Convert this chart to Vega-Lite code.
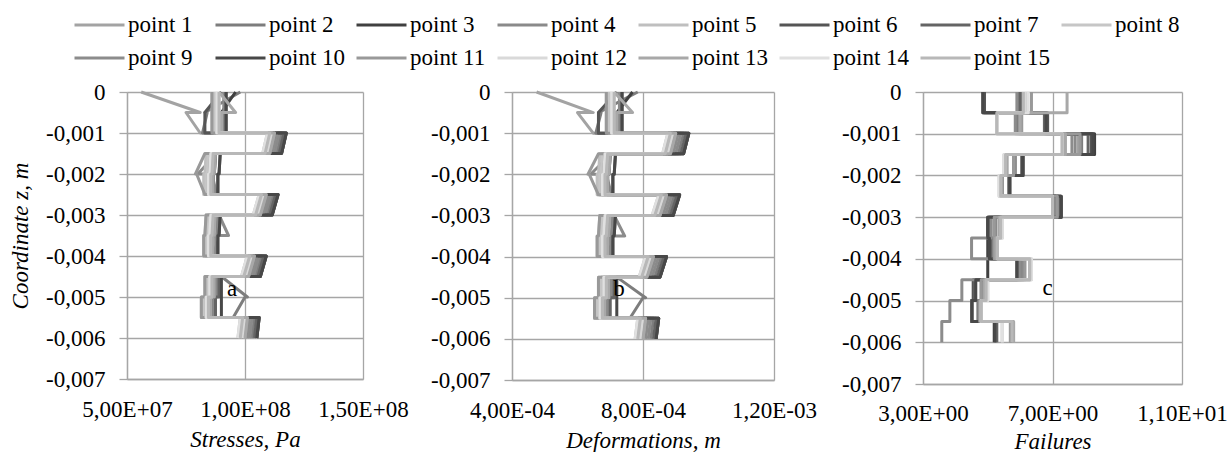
{
"$schema": "https://vega.github.io/schema/vega-lite/v6.json",
"background": "white",
"padding": {"left": 9, "top": 12, "right": 0, "bottom": 0},
"bounds": "flush",
"spacing": 149,
"config": {
  "font": "Liberation Serif, Times New Roman, DejaVu Serif, serif",
  "view": {"stroke": null},
  "text": {"font": "Liberation Serif, Times New Roman, DejaVu Serif, serif"},
  "axis": {"labelFont": "Liberation Serif, Times New Roman, DejaVu Serif, serif", "labelFontSize": 23, "labelColor": "#000000", "titleFont": "Liberation Serif, Times New Roman, DejaVu Serif, serif", "titleFontSize": 23, "titleColor": "#000000", "titleFontWeight": "normal", "titleFontStyle": "italic", "gridColor": "#a6a6a6", "gridWidth": 1.3, "domainColor": "#a6a6a6", "domainWidth": 1.3, "tickColor": "#a6a6a6", "tickWidth": 1.3},
  "legend": {"orient": "none", "legendX": -54, "legendY": -80, "direction": "horizontal", "columns": 8, "symbolType": "stroke", "symbolStrokeWidth": 3, "symbolSize": 2500, "labelFont": "Liberation Serif, Times New Roman, DejaVu Serif, serif", "labelFontSize": 23, "labelColor": "#000000", "gridAlign": "all", "columnPadding": 9, "rowPadding": 7, "labelOffset": 2, "clipHeight": 26}
},
"datasets": {
"sd": [
{"p":1,"z":0,"s":5.6e7,"d":4.75e-4},{"p":1,"z":-0.0005,"s":8.1e7,"d":6.48e-4},{"p":1,"z":-0.0005,"s":7.5e7,"d":6.0e-4},{"p":1,"z":-0.001,"s":8.1e7,"d":6.48e-4},{"p":1,"z":-0.001,"s":11.15e7,"d":8.92e-4},{"p":1,"z":-0.0015,"s":10.95e7,"d":8.76e-4},{"p":1,"z":-0.0015,"s":8.45e7,"d":6.76e-4},{"p":1,"z":-0.002,"s":8.4e7,"d":6.72e-4},{"p":1,"z":-0.002,"s":8.35e7,"d":6.68e-4},{"p":1,"z":-0.0025,"s":8.35e7,"d":6.68e-4},{"p":1,"z":-0.0025,"s":10.8e7,"d":8.64e-4},{"p":1,"z":-0.003,"s":10.55e7,"d":8.44e-4},{"p":1,"z":-0.003,"s":8.45e7,"d":6.76e-4},{"p":1,"z":-0.0035,"s":8.4e7,"d":6.72e-4},{"p":1,"z":-0.0035,"s":8.35e7,"d":6.68e-4},{"p":1,"z":-0.004,"s":8.35e7,"d":6.68e-4},{"p":1,"z":-0.004,"s":10.3e7,"d":8.24e-4},{"p":1,"z":-0.0045,"s":10.05e7,"d":8.04e-4},{"p":1,"z":-0.0045,"s":8.4e7,"d":6.72e-4},{"p":1,"z":-0.005,"s":8.4e7,"d":6.72e-4},{"p":1,"z":-0.005,"s":8.25e7,"d":6.6e-4},{"p":1,"z":-0.0055,"s":8.25e7,"d":6.6e-4},{"p":1,"z":-0.0055,"s":10.0e7,"d":8.0e-4},{"p":1,"z":-0.006,"s":9.9e7,"d":7.92e-4},
{"p":2,"z":0,"s":9.8e7,"d":7.84e-4},{"p":2,"z":-0.0005,"s":8.3e7,"d":6.64e-4},{"p":2,"z":-0.0005,"s":8.4e7,"d":6.72e-4},{"p":2,"z":-0.001,"s":8.2e7,"d":6.56e-4},{"p":2,"z":-0.001,"s":11.55e7,"d":9.24e-4},{"p":2,"z":-0.0015,"s":11.35e7,"d":9.08e-4},{"p":2,"z":-0.0015,"s":8.75e7,"d":7.0e-4},{"p":2,"z":-0.002,"s":8.7e7,"d":6.96e-4},{"p":2,"z":-0.002,"s":8.65e7,"d":6.92e-4},{"p":2,"z":-0.0025,"s":8.65e7,"d":6.92e-4},{"p":2,"z":-0.0025,"s":11.2e7,"d":8.96e-4},{"p":2,"z":-0.003,"s":10.95e7,"d":8.76e-4},{"p":2,"z":-0.003,"s":8.75e7,"d":7.0e-4},{"p":2,"z":-0.0035,"s":8.7e7,"d":6.96e-4},{"p":2,"z":-0.0035,"s":8.65e7,"d":6.92e-4},{"p":2,"z":-0.004,"s":8.65e7,"d":6.92e-4},{"p":2,"z":-0.004,"s":10.7e7,"d":8.56e-4},{"p":2,"z":-0.0045,"s":10.45e7,"d":8.36e-4},{"p":2,"z":-0.0045,"s":9.0e7,"d":7.2e-4},{"p":2,"z":-0.005,"s":10.1e7,"d":8.08e-4},{"p":2,"z":-0.005,"s":10.0e7,"d":8.0e-4},{"p":2,"z":-0.0055,"s":9.5e7,"d":7.6e-4},{"p":2,"z":-0.0055,"s":10.4e7,"d":8.32e-4},{"p":2,"z":-0.006,"s":10.3e7,"d":8.24e-4},
{"p":3,"z":0,"s":9.6e7,"d":7.68e-4},{"p":3,"z":-0.0005,"s":9.0e7,"d":7.2e-4},{"p":3,"z":-0.0005,"s":8.9e7,"d":7.12e-4},{"p":3,"z":-0.001,"s":8.9e7,"d":7.12e-4},{"p":3,"z":-0.001,"s":11.75e7,"d":9.4e-4},{"p":3,"z":-0.0015,"s":11.55e7,"d":9.24e-4},{"p":3,"z":-0.0015,"s":8.65e7,"d":6.92e-4},{"p":3,"z":-0.002,"s":8.6e7,"d":6.88e-4},{"p":3,"z":-0.002,"s":8.55e7,"d":6.84e-4},{"p":3,"z":-0.0025,"s":8.55e7,"d":6.84e-4},{"p":3,"z":-0.0025,"s":11.4e7,"d":9.12e-4},{"p":3,"z":-0.003,"s":11.15e7,"d":8.92e-4},{"p":3,"z":-0.003,"s":8.65e7,"d":6.92e-4},{"p":3,"z":-0.0035,"s":8.6e7,"d":6.88e-4},{"p":3,"z":-0.0035,"s":8.55e7,"d":6.84e-4},{"p":3,"z":-0.004,"s":8.55e7,"d":6.84e-4},{"p":3,"z":-0.004,"s":10.9e7,"d":8.72e-4},{"p":3,"z":-0.0045,"s":10.65e7,"d":8.52e-4},{"p":3,"z":-0.0045,"s":8.6e7,"d":6.88e-4},{"p":3,"z":-0.005,"s":8.6e7,"d":6.88e-4},{"p":3,"z":-0.005,"s":8.45e7,"d":6.76e-4},{"p":3,"z":-0.0055,"s":8.45e7,"d":6.76e-4},{"p":3,"z":-0.0055,"s":10.6e7,"d":8.48e-4},{"p":3,"z":-0.006,"s":10.5e7,"d":8.4e-4},
{"p":4,"z":0,"s":9.1e7,"d":7.28e-4},{"p":4,"z":-0.0005,"s":9.1e7,"d":7.28e-4},{"p":4,"z":-0.0005,"s":9.1e7,"d":7.28e-4},{"p":4,"z":-0.001,"s":9.1e7,"d":7.28e-4},{"p":4,"z":-0.001,"s":11.45e7,"d":9.16e-4},{"p":4,"z":-0.0015,"s":11.25e7,"d":9.0e-4},{"p":4,"z":-0.0015,"s":8.8e7,"d":7.04e-4},{"p":4,"z":-0.002,"s":8.0e7,"d":6.4e-4},{"p":4,"z":-0.002,"s":8.6e7,"d":6.88e-4},{"p":4,"z":-0.0025,"s":8.8e7,"d":7.04e-4},{"p":4,"z":-0.0025,"s":11.1e7,"d":8.88e-4},{"p":4,"z":-0.003,"s":10.85e7,"d":8.68e-4},{"p":4,"z":-0.003,"s":8.85e7,"d":7.08e-4},{"p":4,"z":-0.0035,"s":8.8e7,"d":7.04e-4},{"p":4,"z":-0.0035,"s":8.75e7,"d":7.0e-4},{"p":4,"z":-0.004,"s":8.75e7,"d":7.0e-4},{"p":4,"z":-0.004,"s":10.6e7,"d":8.48e-4},{"p":4,"z":-0.0045,"s":10.35e7,"d":8.28e-4},{"p":4,"z":-0.0045,"s":8.8e7,"d":7.04e-4},{"p":4,"z":-0.005,"s":8.8e7,"d":7.04e-4},{"p":4,"z":-0.005,"s":8.65e7,"d":6.92e-4},{"p":4,"z":-0.0055,"s":8.65e7,"d":6.92e-4},{"p":4,"z":-0.0055,"s":10.3e7,"d":8.24e-4},{"p":4,"z":-0.006,"s":10.2e7,"d":8.16e-4},
{"p":5,"z":0,"s":8.6e7,"d":6.88e-4},{"p":5,"z":-0.0005,"s":8.6e7,"d":6.88e-4},{"p":5,"z":-0.0005,"s":8.6e7,"d":6.88e-4},{"p":5,"z":-0.001,"s":8.6e7,"d":6.88e-4},{"p":5,"z":-0.001,"s":10.95e7,"d":8.76e-4},{"p":5,"z":-0.0015,"s":10.75e7,"d":8.6e-4},{"p":5,"z":-0.0015,"s":8.35e7,"d":6.68e-4},{"p":5,"z":-0.002,"s":8.3e7,"d":6.64e-4},{"p":5,"z":-0.002,"s":8.25e7,"d":6.6e-4},{"p":5,"z":-0.0025,"s":8.25e7,"d":6.6e-4},{"p":5,"z":-0.0025,"s":10.6e7,"d":8.48e-4},{"p":5,"z":-0.003,"s":10.35e7,"d":8.28e-4},{"p":5,"z":-0.003,"s":8.35e7,"d":6.68e-4},{"p":5,"z":-0.0035,"s":8.3e7,"d":6.64e-4},{"p":5,"z":-0.0035,"s":8.25e7,"d":6.6e-4},{"p":5,"z":-0.004,"s":8.25e7,"d":6.6e-4},{"p":5,"z":-0.004,"s":10.1e7,"d":8.08e-4},{"p":5,"z":-0.0045,"s":9.85e7,"d":7.88e-4},{"p":5,"z":-0.0045,"s":8.3e7,"d":6.64e-4},{"p":5,"z":-0.005,"s":8.3e7,"d":6.64e-4},{"p":5,"z":-0.005,"s":8.15e7,"d":6.52e-4},{"p":5,"z":-0.0055,"s":8.15e7,"d":6.52e-4},{"p":5,"z":-0.0055,"s":9.8e7,"d":7.84e-4},{"p":5,"z":-0.006,"s":9.7e7,"d":7.76e-4},
{"p":6,"z":0,"s":9.0e7,"d":7.2e-4},{"p":6,"z":-0.0005,"s":8.3e7,"d":6.64e-4},{"p":6,"z":-0.0005,"s":8.3e7,"d":6.64e-4},{"p":6,"z":-0.001,"s":8.3e7,"d":6.64e-4},{"p":6,"z":-0.001,"s":11.75e7,"d":9.4e-4},{"p":6,"z":-0.0015,"s":11.55e7,"d":9.24e-4},{"p":6,"z":-0.0015,"s":8.75e7,"d":7.0e-4},{"p":6,"z":-0.002,"s":8.7e7,"d":6.96e-4},{"p":6,"z":-0.002,"s":8.65e7,"d":6.92e-4},{"p":6,"z":-0.0025,"s":8.65e7,"d":6.92e-4},{"p":6,"z":-0.0025,"s":11.4e7,"d":9.12e-4},{"p":6,"z":-0.003,"s":11.15e7,"d":8.92e-4},{"p":6,"z":-0.003,"s":8.75e7,"d":7.0e-4},{"p":6,"z":-0.0035,"s":8.7e7,"d":6.96e-4},{"p":6,"z":-0.0035,"s":8.65e7,"d":6.92e-4},{"p":6,"z":-0.004,"s":8.65e7,"d":6.92e-4},{"p":6,"z":-0.004,"s":10.9e7,"d":8.72e-4},{"p":6,"z":-0.0045,"s":10.65e7,"d":8.52e-4},{"p":6,"z":-0.0045,"s":8.7e7,"d":6.96e-4},{"p":6,"z":-0.005,"s":8.7e7,"d":6.96e-4},{"p":6,"z":-0.005,"s":8.55e7,"d":6.84e-4},{"p":6,"z":-0.0055,"s":8.55e7,"d":6.84e-4},{"p":6,"z":-0.0055,"s":10.6e7,"d":8.48e-4},{"p":6,"z":-0.006,"s":10.5e7,"d":8.4e-4},
{"p":7,"z":0,"s":9.2e7,"d":7.36e-4},{"p":7,"z":-0.0005,"s":9.2e7,"d":7.36e-4},{"p":7,"z":-0.0005,"s":9.2e7,"d":7.36e-4},{"p":7,"z":-0.001,"s":9.2e7,"d":7.36e-4},{"p":7,"z":-0.001,"s":11.65e7,"d":9.32e-4},{"p":7,"z":-0.0015,"s":11.45e7,"d":9.16e-4},{"p":7,"z":-0.0015,"s":8.95e7,"d":7.16e-4},{"p":7,"z":-0.002,"s":8.9e7,"d":7.12e-4},{"p":7,"z":-0.002,"s":8.85e7,"d":7.08e-4},{"p":7,"z":-0.0025,"s":8.85e7,"d":7.08e-4},{"p":7,"z":-0.0025,"s":11.3e7,"d":9.04e-4},{"p":7,"z":-0.003,"s":11.05e7,"d":8.84e-4},{"p":7,"z":-0.003,"s":8.95e7,"d":7.16e-4},{"p":7,"z":-0.0035,"s":8.9e7,"d":7.12e-4},{"p":7,"z":-0.0035,"s":8.85e7,"d":7.08e-4},{"p":7,"z":-0.004,"s":8.85e7,"d":7.08e-4},{"p":7,"z":-0.004,"s":10.8e7,"d":8.64e-4},{"p":7,"z":-0.0045,"s":10.55e7,"d":8.44e-4},{"p":7,"z":-0.0045,"s":8.9e7,"d":7.12e-4},{"p":7,"z":-0.005,"s":8.9e7,"d":7.12e-4},{"p":7,"z":-0.005,"s":8.75e7,"d":7.0e-4},{"p":7,"z":-0.0055,"s":8.75e7,"d":7.0e-4},{"p":7,"z":-0.0055,"s":10.5e7,"d":8.4e-4},{"p":7,"z":-0.006,"s":10.4e7,"d":8.32e-4},
{"p":8,"z":0,"s":8.7e7,"d":6.96e-4},{"p":8,"z":-0.0005,"s":8.7e7,"d":6.96e-4},{"p":8,"z":-0.0005,"s":8.7e7,"d":6.96e-4},{"p":8,"z":-0.001,"s":8.7e7,"d":6.96e-4},{"p":8,"z":-0.001,"s":11.05e7,"d":8.84e-4},{"p":8,"z":-0.0015,"s":10.85e7,"d":8.68e-4},{"p":8,"z":-0.0015,"s":8.45e7,"d":6.76e-4},{"p":8,"z":-0.002,"s":8.4e7,"d":6.72e-4},{"p":8,"z":-0.002,"s":8.35e7,"d":6.68e-4},{"p":8,"z":-0.0025,"s":8.35e7,"d":6.68e-4},{"p":8,"z":-0.0025,"s":10.7e7,"d":8.56e-4},{"p":8,"z":-0.003,"s":10.45e7,"d":8.36e-4},{"p":8,"z":-0.003,"s":8.45e7,"d":6.76e-4},{"p":8,"z":-0.0035,"s":8.4e7,"d":6.72e-4},{"p":8,"z":-0.0035,"s":8.35e7,"d":6.68e-4},{"p":8,"z":-0.004,"s":8.35e7,"d":6.68e-4},{"p":8,"z":-0.004,"s":10.2e7,"d":8.16e-4},{"p":8,"z":-0.0045,"s":9.95e7,"d":7.96e-4},{"p":8,"z":-0.0045,"s":8.4e7,"d":6.72e-4},{"p":8,"z":-0.005,"s":8.4e7,"d":6.72e-4},{"p":8,"z":-0.005,"s":8.25e7,"d":6.6e-4},{"p":8,"z":-0.0055,"s":8.25e7,"d":6.6e-4},{"p":8,"z":-0.0055,"s":9.9e7,"d":7.92e-4},{"p":8,"z":-0.006,"s":9.8e7,"d":7.84e-4},
{"p":9,"z":0,"s":8.8e7,"d":7.04e-4},{"p":9,"z":-0.0005,"s":8.8e7,"d":7.04e-4},{"p":9,"z":-0.0005,"s":8.8e7,"d":7.04e-4},{"p":9,"z":-0.001,"s":8.8e7,"d":7.04e-4},{"p":9,"z":-0.001,"s":11.35e7,"d":9.08e-4},{"p":9,"z":-0.0015,"s":11.15e7,"d":8.92e-4},{"p":9,"z":-0.0015,"s":8.55e7,"d":6.84e-4},{"p":9,"z":-0.002,"s":8.5e7,"d":6.8e-4},{"p":9,"z":-0.002,"s":8.45e7,"d":6.76e-4},{"p":9,"z":-0.0025,"s":8.45e7,"d":6.76e-4},{"p":9,"z":-0.0025,"s":11.0e7,"d":8.8e-4},{"p":9,"z":-0.003,"s":10.75e7,"d":8.6e-4},{"p":9,"z":-0.003,"s":8.9e7,"d":7.12e-4},{"p":9,"z":-0.0035,"s":9.3e7,"d":7.44e-4},{"p":9,"z":-0.0035,"s":8.8e7,"d":7.04e-4},{"p":9,"z":-0.004,"s":8.5e7,"d":6.8e-4},{"p":9,"z":-0.004,"s":10.5e7,"d":8.4e-4},{"p":9,"z":-0.0045,"s":10.25e7,"d":8.2e-4},{"p":9,"z":-0.0045,"s":8.5e7,"d":6.8e-4},{"p":9,"z":-0.005,"s":8.5e7,"d":6.8e-4},{"p":9,"z":-0.005,"s":8.35e7,"d":6.68e-4},{"p":9,"z":-0.0055,"s":8.35e7,"d":6.68e-4},{"p":9,"z":-0.0055,"s":10.2e7,"d":8.16e-4},{"p":9,"z":-0.006,"s":10.1e7,"d":8.08e-4},
{"p":10,"z":0,"s":9.2e7,"d":7.36e-4},{"p":10,"z":-0.0005,"s":9.2e7,"d":7.36e-4},{"p":10,"z":-0.0005,"s":9.2e7,"d":7.36e-4},{"p":10,"z":-0.001,"s":9.2e7,"d":7.36e-4},{"p":10,"z":-0.001,"s":11.75e7,"d":9.4e-4},{"p":10,"z":-0.0015,"s":11.55e7,"d":9.24e-4},{"p":10,"z":-0.0015,"s":8.95e7,"d":7.16e-4},{"p":10,"z":-0.002,"s":8.9e7,"d":7.12e-4},{"p":10,"z":-0.002,"s":8.85e7,"d":7.08e-4},{"p":10,"z":-0.0025,"s":8.85e7,"d":7.08e-4},{"p":10,"z":-0.0025,"s":11.4e7,"d":9.12e-4},{"p":10,"z":-0.003,"s":11.15e7,"d":8.92e-4},{"p":10,"z":-0.003,"s":8.95e7,"d":7.16e-4},{"p":10,"z":-0.0035,"s":8.9e7,"d":7.12e-4},{"p":10,"z":-0.0035,"s":8.85e7,"d":7.08e-4},{"p":10,"z":-0.004,"s":8.85e7,"d":7.08e-4},{"p":10,"z":-0.004,"s":10.9e7,"d":8.72e-4},{"p":10,"z":-0.0045,"s":10.65e7,"d":8.52e-4},{"p":10,"z":-0.0045,"s":9.0e7,"d":7.2e-4},{"p":10,"z":-0.005,"s":9.0e7,"d":7.2e-4},{"p":10,"z":-0.005,"s":9.0e7,"d":7.2e-4},{"p":10,"z":-0.0055,"s":9.0e7,"d":7.2e-4},{"p":10,"z":-0.0055,"s":10.6e7,"d":8.48e-4},{"p":10,"z":-0.006,"s":10.5e7,"d":8.4e-4},
{"p":11,"z":0,"s":8.6e7,"d":6.88e-4},{"p":11,"z":-0.0005,"s":8.6e7,"d":6.88e-4},{"p":11,"z":-0.0005,"s":8.6e7,"d":6.88e-4},{"p":11,"z":-0.001,"s":8.6e7,"d":6.88e-4},{"p":11,"z":-0.001,"s":11.25e7,"d":9.0e-4},{"p":11,"z":-0.0015,"s":11.05e7,"d":8.84e-4},{"p":11,"z":-0.0015,"s":8.3e7,"d":6.64e-4},{"p":11,"z":-0.002,"s":7.9e7,"d":6.32e-4},{"p":11,"z":-0.002,"s":7.95e7,"d":6.36e-4},{"p":11,"z":-0.0025,"s":8.3e7,"d":6.64e-4},{"p":11,"z":-0.0025,"s":10.9e7,"d":8.72e-4},{"p":11,"z":-0.003,"s":10.65e7,"d":8.52e-4},{"p":11,"z":-0.003,"s":8.35e7,"d":6.68e-4},{"p":11,"z":-0.0035,"s":8.3e7,"d":6.64e-4},{"p":11,"z":-0.0035,"s":8.25e7,"d":6.6e-4},{"p":11,"z":-0.004,"s":8.25e7,"d":6.6e-4},{"p":11,"z":-0.004,"s":10.4e7,"d":8.32e-4},{"p":11,"z":-0.0045,"s":10.15e7,"d":8.12e-4},{"p":11,"z":-0.0045,"s":8.3e7,"d":6.64e-4},{"p":11,"z":-0.005,"s":8.3e7,"d":6.64e-4},{"p":11,"z":-0.005,"s":8.15e7,"d":6.52e-4},{"p":11,"z":-0.0055,"s":8.15e7,"d":6.52e-4},{"p":11,"z":-0.0055,"s":10.1e7,"d":8.08e-4},{"p":11,"z":-0.006,"s":10.0e7,"d":8.0e-4},
{"p":12,"z":0,"s":8.9e7,"d":7.12e-4},{"p":12,"z":-0.0005,"s":8.9e7,"d":7.12e-4},{"p":12,"z":-0.0005,"s":8.9e7,"d":7.12e-4},{"p":12,"z":-0.001,"s":8.9e7,"d":7.12e-4},{"p":12,"z":-0.001,"s":11.15e7,"d":8.92e-4},{"p":12,"z":-0.0015,"s":10.95e7,"d":8.76e-4},{"p":12,"z":-0.0015,"s":8.65e7,"d":6.92e-4},{"p":12,"z":-0.002,"s":8.6e7,"d":6.88e-4},{"p":12,"z":-0.002,"s":8.55e7,"d":6.84e-4},{"p":12,"z":-0.0025,"s":8.55e7,"d":6.84e-4},{"p":12,"z":-0.0025,"s":10.8e7,"d":8.64e-4},{"p":12,"z":-0.003,"s":10.55e7,"d":8.44e-4},{"p":12,"z":-0.003,"s":8.65e7,"d":6.92e-4},{"p":12,"z":-0.0035,"s":8.6e7,"d":6.88e-4},{"p":12,"z":-0.0035,"s":8.55e7,"d":6.84e-4},{"p":12,"z":-0.004,"s":8.55e7,"d":6.84e-4},{"p":12,"z":-0.004,"s":10.3e7,"d":8.24e-4},{"p":12,"z":-0.0045,"s":10.05e7,"d":8.04e-4},{"p":12,"z":-0.0045,"s":8.6e7,"d":6.88e-4},{"p":12,"z":-0.005,"s":8.6e7,"d":6.88e-4},{"p":12,"z":-0.005,"s":8.45e7,"d":6.76e-4},{"p":12,"z":-0.0055,"s":8.45e7,"d":6.76e-4},{"p":12,"z":-0.0055,"s":10.0e7,"d":8.0e-4},{"p":12,"z":-0.006,"s":9.9e7,"d":7.92e-4},
{"p":13,"z":0,"s":8.9e7,"d":7.12e-4},{"p":13,"z":-0.0005,"s":9.6e7,"d":7.68e-4},{"p":13,"z":-0.0005,"s":9.0e7,"d":7.2e-4},{"p":13,"z":-0.001,"s":9.0e7,"d":7.2e-4},{"p":13,"z":-0.001,"s":11.25e7,"d":9.0e-4},{"p":13,"z":-0.0015,"s":11.05e7,"d":8.84e-4},{"p":13,"z":-0.0015,"s":8.75e7,"d":7.0e-4},{"p":13,"z":-0.002,"s":8.7e7,"d":6.96e-4},{"p":13,"z":-0.002,"s":8.65e7,"d":6.92e-4},{"p":13,"z":-0.0025,"s":8.65e7,"d":6.92e-4},{"p":13,"z":-0.0025,"s":10.9e7,"d":8.72e-4},{"p":13,"z":-0.003,"s":10.65e7,"d":8.52e-4},{"p":13,"z":-0.003,"s":8.75e7,"d":7.0e-4},{"p":13,"z":-0.0035,"s":8.7e7,"d":6.96e-4},{"p":13,"z":-0.0035,"s":8.65e7,"d":6.92e-4},{"p":13,"z":-0.004,"s":8.65e7,"d":6.92e-4},{"p":13,"z":-0.004,"s":10.4e7,"d":8.32e-4},{"p":13,"z":-0.0045,"s":10.15e7,"d":8.12e-4},{"p":13,"z":-0.0045,"s":8.7e7,"d":6.96e-4},{"p":13,"z":-0.005,"s":8.7e7,"d":6.96e-4},{"p":13,"z":-0.005,"s":8.55e7,"d":6.84e-4},{"p":13,"z":-0.0055,"s":8.55e7,"d":6.84e-4},{"p":13,"z":-0.0055,"s":10.1e7,"d":8.08e-4},{"p":13,"z":-0.006,"s":10.0e7,"d":8.0e-4},
{"p":14,"z":0,"s":8.8e7,"d":7.04e-4},{"p":14,"z":-0.0005,"s":8.8e7,"d":7.04e-4},{"p":14,"z":-0.0005,"s":8.8e7,"d":7.04e-4},{"p":14,"z":-0.001,"s":8.8e7,"d":7.04e-4},{"p":14,"z":-0.001,"s":10.95e7,"d":8.76e-4},{"p":14,"z":-0.0015,"s":10.75e7,"d":8.6e-4},{"p":14,"z":-0.0015,"s":8.55e7,"d":6.84e-4},{"p":14,"z":-0.002,"s":8.5e7,"d":6.8e-4},{"p":14,"z":-0.002,"s":8.45e7,"d":6.76e-4},{"p":14,"z":-0.0025,"s":8.45e7,"d":6.76e-4},{"p":14,"z":-0.0025,"s":10.6e7,"d":8.48e-4},{"p":14,"z":-0.003,"s":10.35e7,"d":8.28e-4},{"p":14,"z":-0.003,"s":8.55e7,"d":6.84e-4},{"p":14,"z":-0.0035,"s":8.5e7,"d":6.8e-4},{"p":14,"z":-0.0035,"s":8.45e7,"d":6.76e-4},{"p":14,"z":-0.004,"s":8.45e7,"d":6.76e-4},{"p":14,"z":-0.004,"s":10.1e7,"d":8.08e-4},{"p":14,"z":-0.0045,"s":9.85e7,"d":7.88e-4},{"p":14,"z":-0.0045,"s":8.5e7,"d":6.8e-4},{"p":14,"z":-0.005,"s":8.5e7,"d":6.8e-4},{"p":14,"z":-0.005,"s":8.35e7,"d":6.68e-4},{"p":14,"z":-0.0055,"s":8.35e7,"d":6.68e-4},{"p":14,"z":-0.0055,"s":9.8e7,"d":7.84e-4},{"p":14,"z":-0.006,"s":9.7e7,"d":7.76e-4},
{"p":15,"z":0,"s":8.9e7,"d":7.12e-4},{"p":15,"z":-0.0005,"s":8.9e7,"d":7.12e-4},{"p":15,"z":-0.0005,"s":8.9e7,"d":7.12e-4},{"p":15,"z":-0.001,"s":8.9e7,"d":7.12e-4},{"p":15,"z":-0.001,"s":11.05e7,"d":8.84e-4},{"p":15,"z":-0.0015,"s":10.85e7,"d":8.68e-4},{"p":15,"z":-0.0015,"s":8.65e7,"d":6.92e-4},{"p":15,"z":-0.002,"s":8.6e7,"d":6.88e-4},{"p":15,"z":-0.002,"s":8.55e7,"d":6.84e-4},{"p":15,"z":-0.0025,"s":8.55e7,"d":6.84e-4},{"p":15,"z":-0.0025,"s":10.7e7,"d":8.56e-4},{"p":15,"z":-0.003,"s":10.45e7,"d":8.36e-4},{"p":15,"z":-0.003,"s":8.65e7,"d":6.92e-4},{"p":15,"z":-0.0035,"s":8.6e7,"d":6.88e-4},{"p":15,"z":-0.0035,"s":8.55e7,"d":6.84e-4},{"p":15,"z":-0.004,"s":8.55e7,"d":6.84e-4},{"p":15,"z":-0.004,"s":10.2e7,"d":8.16e-4},{"p":15,"z":-0.0045,"s":9.95e7,"d":7.96e-4},{"p":15,"z":-0.0045,"s":8.6e7,"d":6.88e-4},{"p":15,"z":-0.005,"s":8.6e7,"d":6.88e-4},{"p":15,"z":-0.005,"s":8.45e7,"d":6.76e-4},{"p":15,"z":-0.0055,"s":8.45e7,"d":6.76e-4},{"p":15,"z":-0.0055,"s":9.9e7,"d":7.92e-4},{"p":15,"z":-0.006,"s":9.8e7,"d":7.84e-4}
],
"fl": [
{"p":1,"z":0,"f":6.0},{"p":1,"z":-0.0005,"f":5.95},{"p":1,"z":-0.001,"f":7.8},{"p":1,"z":-0.0015,"f":5.85},{"p":1,"z":-0.002,"f":5.45},{"p":1,"z":-0.0025,"f":7.1},{"p":1,"z":-0.003,"f":5.2},{"p":1,"z":-0.0035,"f":5.15},{"p":1,"z":-0.004,"f":6.1},{"p":1,"z":-0.0045,"f":4.8},{"p":1,"z":-0.005,"f":4.7},{"p":1,"z":-0.0055,"f":5.75},{"p":1,"z":-0.006,"f":5.75},
{"p":2,"z":0,"f":5.95},{"p":2,"z":-0.0005,"f":5.9},{"p":2,"z":-0.001,"f":7.9},{"p":2,"z":-0.0015,"f":5.8},{"p":2,"z":-0.002,"f":5.45},{"p":2,"z":-0.0025,"f":7.1},{"p":2,"z":-0.003,"f":5.2},{"p":2,"z":-0.0035,"f":5.2},{"p":2,"z":-0.004,"f":6.05},{"p":2,"z":-0.0045,"f":4.8},{"p":2,"z":-0.005,"f":4.7},{"p":2,"z":-0.0055,"f":5.7},{"p":2,"z":-0.006,"f":5.7},
{"p":3,"z":0,"f":4.85},{"p":3,"z":-0.0005,"f":6.8},{"p":3,"z":-0.001,"f":8.3},{"p":3,"z":-0.0015,"f":6.08},{"p":3,"z":-0.002,"f":5.68},{"p":3,"z":-0.0025,"f":7.27},{"p":3,"z":-0.003,"f":5.0},{"p":3,"z":-0.0035,"f":5.0},{"p":3,"z":-0.004,"f":5.0},{"p":3,"z":-0.0045,"f":4.6},{"p":3,"z":-0.005,"f":4.5},{"p":3,"z":-0.0055,"f":5.2},{"p":3,"z":-0.006,"f":5.2},
{"p":4,"z":0,"f":6.05},{"p":4,"z":-0.0005,"f":6.0},{"p":4,"z":-0.001,"f":7.7},{"p":4,"z":-0.0015,"f":5.83},{"p":4,"z":-0.002,"f":5.4},{"p":4,"z":-0.0025,"f":7.1},{"p":4,"z":-0.003,"f":5.25},{"p":4,"z":-0.0035,"f":5.1},{"p":4,"z":-0.004,"f":6.1},{"p":4,"z":-0.0045,"f":4.85},{"p":4,"z":-0.005,"f":4.75},{"p":4,"z":-0.0055,"f":5.75},{"p":4,"z":-0.006,"f":5.75},
{"p":5,"z":0,"f":6.1},{"p":5,"z":-0.0005,"f":5.28},{"p":5,"z":-0.001,"f":7.3},{"p":5,"z":-0.0015,"f":5.55},{"p":5,"z":-0.002,"f":5.4},{"p":5,"z":-0.0025,"f":7.0},{"p":5,"z":-0.003,"f":5.4},{"p":5,"z":-0.0035,"f":5.25},{"p":5,"z":-0.004,"f":6.3},{"p":5,"z":-0.0045,"f":4.95},{"p":5,"z":-0.005,"f":4.8},{"p":5,"z":-0.0055,"f":5.45},{"p":5,"z":-0.006,"f":5.45},
{"p":6,"z":0,"f":4.9},{"p":6,"z":-0.0005,"f":6.85},{"p":6,"z":-0.001,"f":8.2},{"p":6,"z":-0.0015,"f":6.05},{"p":6,"z":-0.002,"f":5.65},{"p":6,"z":-0.0025,"f":7.25},{"p":6,"z":-0.003,"f":5.05},{"p":6,"z":-0.0035,"f":5.05},{"p":6,"z":-0.004,"f":5.9},{"p":6,"z":-0.0045,"f":4.55},{"p":6,"z":-0.005,"f":4.5},{"p":6,"z":-0.0055,"f":5.25},{"p":6,"z":-0.006,"f":5.25},
{"p":7,"z":0,"f":6.0},{"p":7,"z":-0.0005,"f":6.75},{"p":7,"z":-0.001,"f":8.1},{"p":7,"z":-0.0015,"f":6.1},{"p":7,"z":-0.002,"f":5.68},{"p":7,"z":-0.0025,"f":7.2},{"p":7,"z":-0.003,"f":5.0},{"p":7,"z":-0.0035,"f":5.1},{"p":7,"z":-0.004,"f":5.95},{"p":7,"z":-0.0045,"f":4.6},{"p":7,"z":-0.005,"f":4.5},{"p":7,"z":-0.0055,"f":5.28},{"p":7,"z":-0.006,"f":5.28},
{"p":8,"z":0,"f":6.2},{"p":8,"z":-0.0005,"f":5.3},{"p":8,"z":-0.001,"f":7.35},{"p":8,"z":-0.0015,"f":5.5},{"p":8,"z":-0.002,"f":5.35},{"p":8,"z":-0.0025,"f":7.0},{"p":8,"z":-0.003,"f":5.45},{"p":8,"z":-0.0035,"f":5.3},{"p":8,"z":-0.004,"f":6.35},{"p":8,"z":-0.0045,"f":5.0},{"p":8,"z":-0.005,"f":4.8},{"p":8,"z":-0.0055,"f":5.45},{"p":8,"z":-0.006,"f":5.45},
{"p":9,"z":0,"f":5.9},{"p":9,"z":-0.0005,"f":5.85},{"p":9,"z":-0.001,"f":7.6},{"p":9,"z":-0.0015,"f":5.85},{"p":9,"z":-0.002,"f":5.45},{"p":9,"z":-0.0025,"f":7.05},{"p":9,"z":-0.003,"f":5.1},{"p":9,"z":-0.0035,"f":4.5},{"p":9,"z":-0.004,"f":6.0},{"p":9,"z":-0.0045,"f":4.2},{"p":9,"z":-0.005,"f":3.83},{"p":9,"z":-0.0055,"f":3.58},{"p":9,"z":-0.006,"f":3.58},
{"p":10,"z":0,"f":4.85},{"p":10,"z":-0.0005,"f":6.8},{"p":10,"z":-0.001,"f":8.25},{"p":10,"z":-0.0015,"f":6.08},{"p":10,"z":-0.002,"f":5.68},{"p":10,"z":-0.0025,"f":7.27},{"p":10,"z":-0.003,"f":5.0},{"p":10,"z":-0.0035,"f":5.05},{"p":10,"z":-0.004,"f":5.9},{"p":10,"z":-0.0045,"f":4.63},{"p":10,"z":-0.005,"f":4.52},{"p":10,"z":-0.0055,"f":5.22},{"p":10,"z":-0.006,"f":5.22},
{"p":11,"z":0,"f":6.35},{"p":11,"z":-0.0005,"f":6.05},{"p":11,"z":-0.001,"f":7.85},{"p":11,"z":-0.0015,"f":5.8},{"p":11,"z":-0.002,"f":5.45},{"p":11,"z":-0.0025,"f":7.15},{"p":11,"z":-0.003,"f":5.2},{"p":11,"z":-0.0035,"f":5.2},{"p":11,"z":-0.004,"f":6.15},{"p":11,"z":-0.0045,"f":4.8},{"p":11,"z":-0.005,"f":4.75},{"p":11,"z":-0.0055,"f":5.7},{"p":11,"z":-0.006,"f":5.7},
{"p":12,"z":0,"f":6.15},{"p":12,"z":-0.0005,"f":5.3},{"p":12,"z":-0.001,"f":7.3},{"p":12,"z":-0.0015,"f":5.55},{"p":12,"z":-0.002,"f":5.4},{"p":12,"z":-0.0025,"f":7.0},{"p":12,"z":-0.003,"f":5.4},{"p":12,"z":-0.0035,"f":5.3},{"p":12,"z":-0.004,"f":6.3},{"p":12,"z":-0.0045,"f":4.95},{"p":12,"z":-0.005,"f":4.8},{"p":12,"z":-0.0055,"f":5.45},{"p":12,"z":-0.006,"f":5.45},
{"p":13,"z":0,"f":7.45},{"p":13,"z":-0.0005,"f":6.0},{"p":13,"z":-0.001,"f":7.4},{"p":13,"z":-0.0015,"f":5.6},{"p":13,"z":-0.002,"f":5.4},{"p":13,"z":-0.0025,"f":7.0},{"p":13,"z":-0.003,"f":5.35},{"p":13,"z":-0.0035,"f":5.25},{"p":13,"z":-0.004,"f":6.3},{"p":13,"z":-0.0045,"f":4.9},{"p":13,"z":-0.005,"f":4.8},{"p":13,"z":-0.0055,"f":5.8},{"p":13,"z":-0.006,"f":5.8},
{"p":14,"z":0,"f":6.25},{"p":14,"z":-0.0005,"f":5.3},{"p":14,"z":-0.001,"f":7.3},{"p":14,"z":-0.0015,"f":5.5},{"p":14,"z":-0.002,"f":5.35},{"p":14,"z":-0.0025,"f":7.0},{"p":14,"z":-0.003,"f":5.45},{"p":14,"z":-0.0035,"f":5.3},{"p":14,"z":-0.004,"f":6.35},{"p":14,"z":-0.0045,"f":5.0},{"p":14,"z":-0.005,"f":4.8},{"p":14,"z":-0.0055,"f":5.45},{"p":14,"z":-0.006,"f":5.45},
{"p":15,"z":0,"f":6.1},{"p":15,"z":-0.0005,"f":5.28},{"p":15,"z":-0.001,"f":7.3},{"p":15,"z":-0.0015,"f":5.55},{"p":15,"z":-0.002,"f":5.4},{"p":15,"z":-0.0025,"f":7.0},{"p":15,"z":-0.003,"f":5.4},{"p":15,"z":-0.0035,"f":5.3},{"p":15,"z":-0.004,"f":6.3},{"p":15,"z":-0.0045,"f":4.95},{"p":15,"z":-0.005,"f":4.8},{"p":15,"z":-0.0055,"f":5.75},{"p":15,"z":-0.006,"f":5.75}
]
},
"hconcat": [
{
 "width": 236, "height": 287,
 "layer": [
  {"data": {"name": "sd"},
   "mark": {"type": "line", "strokeWidth": 3, "strokeJoin": "round"},
   "encoding": {
    "x": {"field": "s", "type": "quantitative", "scale": {"domain": [5e7, 1.5e8], "nice": false, "zero": false},
          "axis": {"values": [5e7, 1e8, 1.5e8], "labelExpr": "datum.value < 7e7 ? '5,00E+07' : datum.value < 1.2e8 ? '1,00E+08' : '1,50E+08'", "tickSize": 0, "labelPadding": 19, "title": "Stresses, Pa", "titlePadding": 7, "labelFlush": false}},
    "y": {"field": "z", "type": "quantitative", "scale": {"domain": [-0.007, 0], "nice": false, "zero": false},
          "axis": {"values": [0, -0.001, -0.002, -0.003, -0.004, -0.005, -0.006, -0.007], "labelExpr": "datum.value == 0 ? '0' : replace(replace(format(datum.value, '.3f'), '.', ','), '\u2212', '-')", "tickSize": 8, "labelPadding": 14, "title": "Coordinate z, m", "titlePadding": 13}},
    "color": {"field": "p", "type": "nominal", "scale": {"domain": [1,2,3,4,5,6,7,8,9,10,11,12,13,14,15], "range": ["#a3a3a3","#7d7d7d","#404040","#8a8a8a","#bfbfbf","#555555","#646464","#c6c6c6","#8c8c8c","#484848","#999999","#d9d9d9","#a8a8a8","#e0e0e0","#b8b8b8"]},
              "legend": {"title": null, "labelExpr": "'point ' + datum.label"}},
    "order": {"value": null}
   }},
  {"data": {"values": [{"t": "a", "s": 9.45e7, "z": -0.0048}]},
   "mark": {"type": "text", "fontSize": 23, "color": "#000000"},
   "encoding": {"x": {"field": "s", "type": "quantitative"}, "y": {"field": "z", "type": "quantitative"}, "text": {"field": "t"}}}
 ]
},
{
 "width": 262, "height": 288,
 "layer": [
  {"data": {"name": "sd"},
   "mark": {"type": "line", "strokeWidth": 3, "strokeJoin": "round"},
   "encoding": {
    "x": {"field": "d", "type": "quantitative", "scale": {"domain": [4e-4, 1.2e-3], "nice": false, "zero": false},
          "axis": {"values": [4e-4, 8e-4, 1.2e-3], "labelExpr": "datum.value < 6e-4 ? '4,00E-04' : datum.value < 1e-3 ? '8,00E-04' : '1,20E-03'", "tickSize": 0, "labelPadding": 19, "title": "Deformations, m", "titlePadding": 7, "labelFlush": false}},
    "y": {"field": "z", "type": "quantitative", "scale": {"domain": [-0.007, 0], "nice": false, "zero": false},
          "axis": {"values": [0, -0.001, -0.002, -0.003, -0.004, -0.005, -0.006, -0.007], "labelExpr": "datum.value == 0 ? '0' : replace(replace(format(datum.value, '.3f'), '.', ','), '\u2212', '-')", "tickSize": 8, "labelPadding": 14, "title": null}},
    "color": {"field": "p", "type": "nominal", "scale": {"domain": [1,2,3,4,5,6,7,8,9,10,11,12,13,14,15], "range": ["#a3a3a3","#7d7d7d","#404040","#8a8a8a","#bfbfbf","#555555","#646464","#c6c6c6","#8c8c8c","#484848","#999999","#d9d9d9","#a8a8a8","#e0e0e0","#b8b8b8"]},
              "legend": {"title": null, "labelExpr": "'point ' + datum.label"}},
    "order": {"value": null}
   }},
  {"data": {"values": [{"t": "b", "d": 7.27e-4, "z": -0.0048}]},
   "mark": {"type": "text", "fontSize": 23, "color": "#000000"},
   "encoding": {"x": {"field": "d", "type": "quantitative"}, "y": {"field": "z", "type": "quantitative"}, "text": {"field": "t"}}}
 ]
},
{
 "width": 259, "height": 292,
 "layer": [
  {"data": {"name": "fl"},
   "mark": {"type": "line", "strokeWidth": 3, "interpolate": "step-before", "strokeJoin": "round"},
   "encoding": {
    "x": {"field": "f", "type": "quantitative", "scale": {"domain": [3, 11], "nice": false, "zero": false},
          "axis": {"values": [3, 7, 11], "labelExpr": "datum.value < 5 ? '3,00E+00' : datum.value < 9 ? '7,00E+00' : '1,10E+01'", "tickSize": 0, "labelPadding": 18, "title": "Failures", "titlePadding": 5, "labelFlush": false}},
    "y": {"field": "z", "type": "quantitative", "scale": {"domain": [-0.007, 0], "nice": false, "zero": false},
          "axis": {"values": [0, -0.001, -0.002, -0.003, -0.004, -0.005, -0.006, -0.007], "labelExpr": "datum.value == 0 ? '0' : replace(replace(format(datum.value, '.3f'), '.', ','), '\u2212', '-')", "tickSize": 8, "labelPadding": 14, "title": null}},
    "color": {"field": "p", "type": "nominal", "scale": {"domain": [1,2,3,4,5,6,7,8,9,10,11,12,13,14,15], "range": ["#a3a3a3","#7d7d7d","#404040","#8a8a8a","#bfbfbf","#555555","#646464","#c6c6c6","#8c8c8c","#484848","#999999","#d9d9d9","#a8a8a8","#e0e0e0","#b8b8b8"]},
              "legend": {"title": null, "labelExpr": "'point ' + datum.label"}},
    "order": {"value": null}
   }},
  {"data": {"values": [{"t": "c", "f": 6.85, "z": -0.0047}]},
   "mark": {"type": "text", "fontSize": 23, "color": "#000000"},
   "encoding": {"x": {"field": "f", "type": "quantitative"}, "y": {"field": "z", "type": "quantitative"}, "text": {"field": "t"}}}
 ]
}
]
}
